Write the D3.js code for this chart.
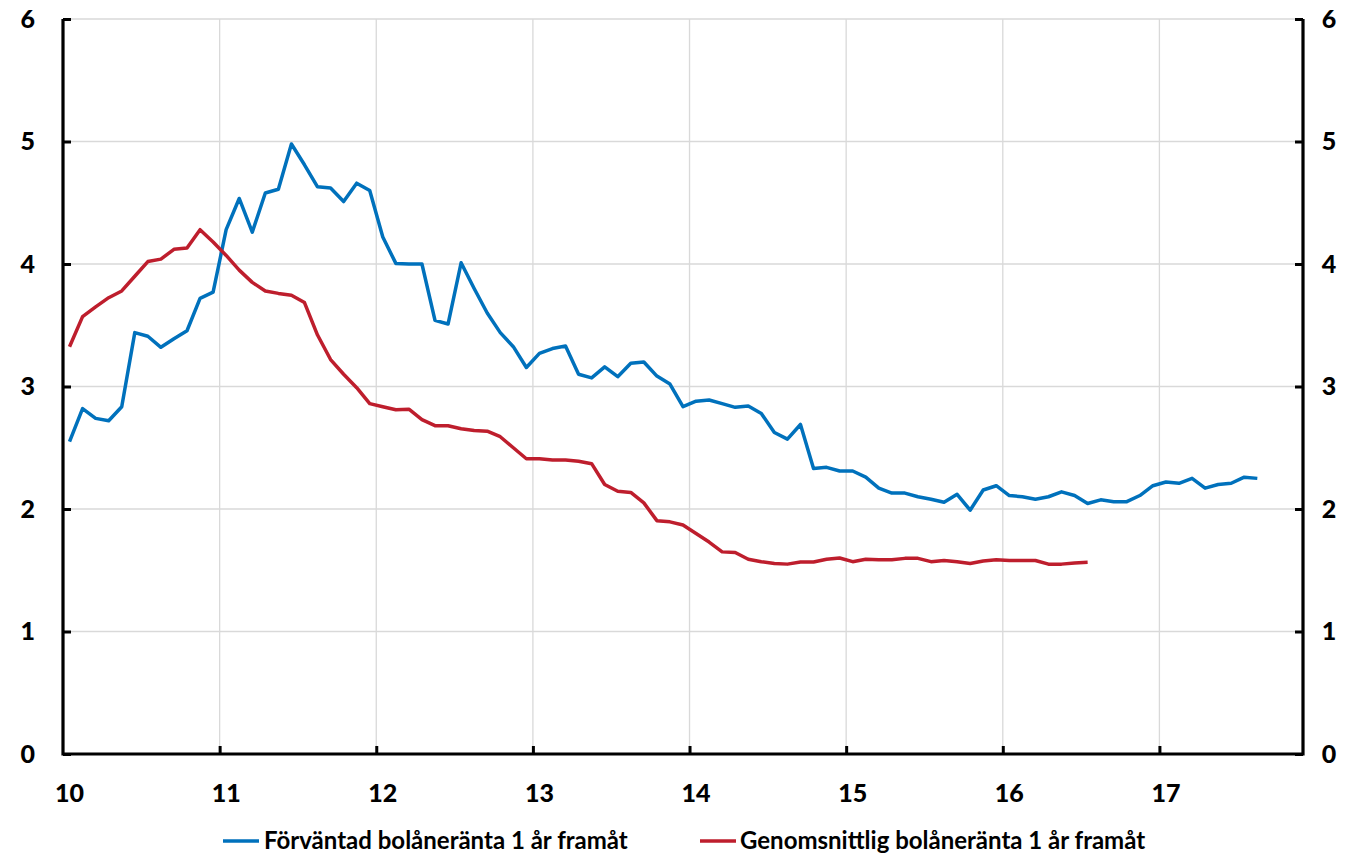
<!DOCTYPE html>
<html><head><meta charset="utf-8">
<script src="https://cdn.jsdelivr.net/npm/d3@7"></script>
<style>body{margin:0;background:#fff}svg{display:block}text{font-family:Lato,"Open Sans",sans-serif;font-weight:bold;fill:#000}</style>
</head><body><svg id="c" width="1348" height="855"></svg>
<script>
// Monthly data starting January 2010
const startYear = 2010;
const yearLabels = ["10","11","12","13","14","15","16","17"];
const yTicks = [0,1,2,3,4,5,6];
const seriesNames = ["Förväntad bolåneränta 1 år framåt","Genomsnittlig bolåneränta 1 år framåt"];
const expected = [2.55,2.82,2.74,2.72,2.835,3.44,3.41,3.32,3.39,3.455,3.72,3.77,
  4.28,4.535,4.26,4.58,4.61,4.98,4.81,4.63,4.62,4.51,4.66,4.60,
  4.22,4.005,4.0,4.0,3.54,3.51,4.01,3.80,3.60,3.44,3.325,3.155,
  3.27,3.31,3.33,3.10,3.07,3.16,3.08,3.19,3.20,3.085,3.02,2.835,
  2.88,2.89,2.86,2.83,2.84,2.78,2.625,2.57,2.69,2.33,2.34,2.31,
  2.31,2.26,2.17,2.13,2.13,2.10,2.08,2.055,2.12,1.99,2.155,2.19,
  2.11,2.10,2.08,2.10,2.14,2.11,2.045,2.075,2.06,2.06,2.11,2.19,
  2.22,2.21,2.25,2.17,2.20,2.21,2.26,2.25];
const average = [3.325,3.57,3.65,3.725,3.78,3.90,4.02,4.04,4.12,4.13,4.28,4.18,
  4.07,3.95,3.85,3.78,3.76,3.745,3.685,3.42,3.22,3.10,2.99,2.86,
  2.835,2.81,2.815,2.73,2.68,2.68,2.655,2.64,2.635,2.59,2.50,2.41,
  2.41,2.40,2.40,2.39,2.37,2.20,2.145,2.135,2.05,1.905,1.895,1.87,
  1.80,1.73,1.65,1.645,1.59,1.57,1.555,1.55,1.567,1.567,1.59,1.60,
  1.57,1.59,1.585,1.585,1.597,1.597,1.57,1.58,1.57,1.555,1.575,1.585,
  1.58,1.58,1.58,1.55,1.55,1.56,1.565];
const colors = ["#0071BC","#BE1E2D"];
const totalMonths = 95;

const svg = d3.select("#c");
const L = 63, R = 1303, T = 19, B = 754;
const x = d3.scaleLinear().domain([0,totalMonths]).range([L,R]);
const y = d3.scaleLinear().domain([0,6]).range([B,T]);
const yearStarts = yearLabels.map((d,i)=>i*12);

// grid
const g = svg.append("g");
g.selectAll(".hg").data(yTicks.filter(d=>d>0)).join("line")
  .attr("x1",L).attr("x2",R).attr("y1",d=>y(d)).attr("y2",d=>y(d))
  .attr("stroke","#d9d9d9").attr("stroke-width",1.3);
g.selectAll(".vg").data(yearStarts.slice(1)).join("line")
  .attr("x1",d=>x(d)).attr("x2",d=>x(d)).attr("y1",T).attr("y2",B)
  .attr("stroke","#d9d9d9").attr("stroke-width",1.3);

// lines
const line = d3.line().x((d,i)=>x(i+0.5)).y(d=>y(d));
[expected,average].forEach((s,k)=>{
  svg.append("path").datum(s).attr("d",line).attr("fill","none")
    .attr("stroke",colors[k]).attr("stroke-width",3.5).attr("stroke-linejoin","round");
});

// axes
const axL = d3.axisLeft(y).tickValues(yTicks).tickSize(-8).tickPadding(28).tickFormat(d3.format("d"));
const axR = d3.axisRight(y).tickValues(yTicks).tickSize(-8).tickPadding(28).tickFormat(d3.format("d"));
const axB = d3.axisBottom(x).tickValues(yearStarts.slice(1)).tickSize(-8).tickFormat("");
function style(sel){
  sel.select(".domain").remove();
  sel.selectAll("line").attr("stroke","#000").attr("stroke-width",3);
  sel.selectAll("text").style("font-size","25px").style("font-family","Lato,sans-serif").style("font-weight","900");
}
svg.append("g").attr("transform",`translate(${L},0)`).call(axL).call(style);
svg.append("g").attr("transform",`translate(${R},0)`).call(axR).call(style)
  .selectAll("text").attr("text-anchor","middle").attr("dx","-2");
svg.append("g").attr("transform",`translate(0,${B})`).call(axB).call(style);
// axis lines
svg.append("path").attr("d",`M${L},${T}V${B}H${R}V${T}`).attr("fill","none")
  .attr("stroke","#000").attr("stroke-width",3.2);

// x labels at January category centers
svg.selectAll(".xl").data(yearLabels).join("text")
  .attr("x",(d,i)=>x(i*12+0.5)).attr("y",802).attr("text-anchor","middle")
  .style("font-size","25px").style("font-weight","900").text(d=>d);

// legend
const leg = [{x0:223,tx:264},{x0:700,tx:740}];
seriesNames.forEach((n,k)=>{
  svg.append("line").attr("x1",leg[k].x0).attr("x2",leg[k].x0+36).attr("y1",841).attr("y2",841)
    .attr("stroke",colors[k]).attr("stroke-width",3.5);
  svg.append("text").attr("x",leg[k].tx).attr("y",849).style("font-size","24px").text(n);
});
</script></body></html>
